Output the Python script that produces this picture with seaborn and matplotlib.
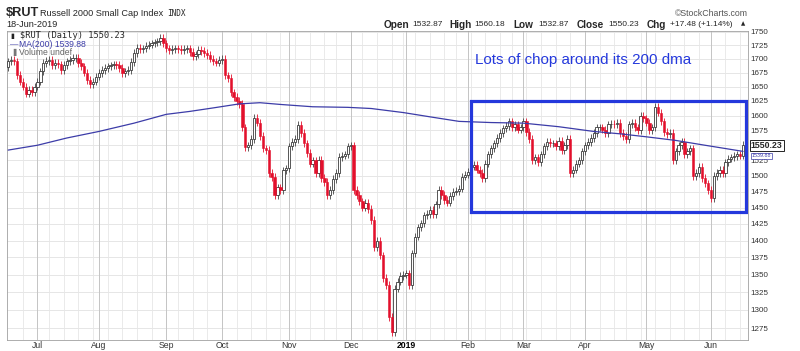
import numpy as np
import pandas as pd
import matplotlib
matplotlib.use('Agg')
import matplotlib.pyplot as plt
import matplotlib.ticker as mticker
from matplotlib.patches import Rectangle
import seaborn as sns

# daily closes of $RUT, 18-Jun-2018 .. 18-Jun-2019
closes = [
    1695, 1698, 1695, 1671, 1659, 1650, 1638, 1644, 1641, 1650,
    1659, 1677, 1692, 1696, 1698, 1689, 1692, 1690, 1680, 1689,
    1695, 1698, 1701, 1702, 1692, 1686, 1675, 1662, 1654, 1659,
    1668, 1674, 1680, 1683, 1686, 1688, 1690, 1689, 1683, 1674,
    1677, 1680, 1694, 1710, 1720, 1718, 1719, 1724, 1726, 1728,
    1730, 1732, 1738, 1728, 1719, 1716, 1718, 1719, 1718, 1716,
    1718, 1719, 1712, 1705, 1708, 1716, 1714, 1710, 1707, 1700,
    1695, 1693, 1698, 1700, 1670, 1665, 1640, 1632, 1625, 1620,
    1580, 1547, 1550, 1560, 1596, 1588, 1565, 1545, 1542, 1505,
    1498, 1470, 1482, 1478, 1509, 1512, 1548, 1555, 1560, 1584,
    1570, 1553, 1537, 1520, 1525, 1505, 1526, 1497, 1490, 1470,
    1478, 1495, 1505, 1531, 1533, 1535, 1548, 1550, 1478, 1470,
    1460, 1450, 1457, 1448, 1431, 1390, 1400, 1378, 1345, 1335,
    1290, 1270, 1330, 1340, 1348, 1350, 1352, 1335, 1381, 1406,
    1420, 1426, 1438, 1440, 1447, 1440, 1455, 1478, 1470, 1462,
    1458, 1468, 1475, 1476, 1480, 1499, 1502, 1506, 1515, 1518,
    1510, 1505, 1497, 1520, 1535, 1545, 1553, 1562, 1570, 1578,
    1582, 1590, 1580, 1585, 1576, 1580, 1590, 1572, 1560, 1525,
    1530, 1522, 1535, 1548, 1555, 1553, 1553, 1548, 1557, 1542,
    1550, 1560, 1505, 1510, 1520, 1525, 1540, 1550, 1555, 1562,
    1570, 1580, 1580, 1576, 1570, 1585, 1586, 1585, 1587, 1570,
    1565, 1560, 1585, 1587, 1580, 1575, 1600, 1595, 1588, 1575,
    1580, 1615, 1605, 1590, 1572, 1568, 1570, 1525, 1540, 1550,
    1555, 1535, 1540, 1545, 1500, 1505, 1515, 1497, 1488, 1478,
    1465, 1500, 1505, 1510, 1505, 1522, 1528, 1530, 1532, 1535,
    1532.75, 1550.23]
first_open = 1685

# 200 day moving average, read at a few trading-day positions
ma_idx = [0, 10, 20, 31, 43, 54, 62, 70, 79, 86, 93, 104, 116, 124,
          135, 145, 154, 165, 176, 188, 200, 209, 218, 228, 238, 251]
ma_vals = [1542, 1550, 1562, 1573, 1587, 1602, 1607, 1613, 1620, 1622, 1619, 1615, 1614, 1612,
           1605, 1597, 1590, 1588, 1587, 1581, 1573, 1569, 1564, 1558, 1550, 1539.88]

holidays = ['2018-07-04', '2018-09-03', '2018-11-22', '2018-12-05', '2018-12-25',
            '2019-01-01', '2019-01-21', '2019-02-18', '2019-04-19', '2019-05-27']
y_ticks = list(range(1275, 1751, 25))

days = pd.bdate_range('2018-06-18', '2019-06-18')
days = days[~days.isin(pd.to_datetime(holidays))]

df = pd.DataFrame({'date': days, 'close': closes})
df['open'] = [first_open] + closes[:-1]
df['i'] = np.arange(len(df))
df['up'] = df['close'] >= df['open']

sns.set_style('white')
plt.rcParams['font.family'] = ['Liberation Sans', 'DejaVu Sans']

fig = plt.figure(figsize=(8, 3.51), dpi=100)
ax = fig.add_axes([7/800, 1-340/351, 741/800, 309.5/351])

def fx(x):
    return x/800

def fy(y):
    return 1 - y/351

ax.set_yscale('log')
ax.set_xlim(-0.4, 252.7)
ax.set_ylim(1259, 1752)

# grid
for v in y_ticks:
    ax.axhline(v, color='#e2e2e2', lw=0.6, zorder=0)
week_starts = [i for i in range(1, len(days)) if days[i].weekday() < days[i-1].weekday()]
month_starts = [i for i in range(1, len(days)) if days[i].month != days[i-1].month]
for i in week_starts:
    ax.axvline(i, color='#e6e6e6', lw=0.6, zorder=0)
for i in month_starts:
    ax.axvline(i, color='#c4c4c4', lw=0.7, zorder=0)

# candles
up = df[df['up']]
dn = df[~df['up']]
lo = np.minimum(df['open'], df['close'])
hi = np.maximum(df['open'], df['close'])
ax.vlines(df['i'], lo*0.996, hi*1.004, color=np.where(df['up'], '#444444', '#e3102c'), lw=0.6, zorder=2)
ax.bar(up['i'], up['close']-up['open'], bottom=up['open'], width=0.8,
       facecolor='white', edgecolor='#3a3a3a', linewidth=0.6, zorder=3)
ax.bar(dn['i'], dn['open']-dn['close'], bottom=dn['close'], width=0.8,
       facecolor='#e3102c', edgecolor='#e3102c', linewidth=0.4, zorder=3)

sns.lineplot(x=ma_idx, y=ma_vals, ax=ax, color='#3c3ca8', linewidth=0.9, zorder=4)

# box
ax.add_patch(Rectangle((158.1, 1443), 93.9, 181.5, fill=False, ec='#2438dc', lw=2.3, zorder=5))
fig.text(fx(475), fy(60), 'Lots of chop around its 200 dma', color='#2438dc', fontsize=10.9,
         va='center', ha='left')

# axes styling
ax.yaxis.tick_right()
ax.yaxis.set_major_locator(mticker.FixedLocator(y_ticks))
ax.yaxis.set_minor_locator(mticker.NullLocator())
ax.yaxis.set_major_formatter(mticker.FuncFormatter(lambda v, p: '%d' % v))
ax.tick_params(axis='y', length=0, pad=2, labelsize=5.8, labelcolor='#333333')
ax.set_xticks(month_starts)
ax.set_xticklabels(['2019' if days[i].month == 1 else days[i].strftime('%b') for i in month_starts])
ax.tick_params(axis='x', length=0, pad=0.6, labelsize=6.2, labelcolor='#333333')
for t in ax.get_xticklabels():
    if t.get_text() == '2019':
        t.set_fontweight('bold')
        t.set_color('black')
for s in ax.spines.values():
    s.set_color('#a0a0a0')
    s.set_linewidth(0.6)
ax.set_xlabel('')
ax.set_ylabel('')

# last price tags
ax.annotate('1550.23', xy=(1.0, 1550.23), xycoords=('axes fraction', 'data'), xytext=(2, 0),
            textcoords='offset points', va='center', ha='left', fontsize=6.3, fontweight='bold',
            bbox=dict(boxstyle='square,pad=0.12', fc='white', ec='black', lw=0.6), annotation_clip=False)
ax.annotate('1539.88', xy=(1.0, 1539.88), xycoords=('axes fraction', 'data'), xytext=(2.5, -3),
            textcoords='offset points', va='center', ha='left', fontsize=3.8, color='#3c3ca8',
            bbox=dict(boxstyle='square,pad=0.1', fc='white', ec='#3c3ca8', lw=0.5), annotation_clip=False)

# header
fig.text(fx(6), fy(13), '$RUT', fontsize=9.2, fontweight='bold', va='center')
fig.text(fx(40), fy(13), 'Russell 2000 Small Cap Index', fontsize=6.6, va='center')
fig.text(fx(167), fy(13), 'INDX', fontsize=5.6, va='center', family='DejaVu Sans Mono')
fig.text(fx(6), fy(24.5), '18-Jun-2019', fontsize=6.6, va='center')
fig.text(fx(748), fy(13), '\u00a9StockCharts.com', fontsize=6.3, va='center', ha='right', color='#555555')

hdr = [('Open', 384, True), ('1532.87', 412, False), ('High', 449, True), ('1560.18', 474, False),
       ('Low', 513, True), ('1532.87', 538, False), ('Close', 577, True), ('1550.23', 608, False),
       ('Chg', 647, True), ('+17.48 (+1.14%)', 670, False)]
for txt, x, b in hdr:
    fig.text(fx(x), fy(24.5), txt, fontsize=7.2 if b else 6.0, fontweight='bold' if b else 'normal',
             va='center')
fig.text(fx(741), fy(23.5), '\u25b2', fontsize=4, va='center', family=['DejaVu Sans'])

# legend
fig.text(fx(10), fy(36), '\u25ae', fontsize=5, va='center', color='#222222', family=['DejaVu Sans'])
fig.text(fx(20), fy(36), '$RUT (Daily) 1550.23', fontsize=6.2, va='center', family='DejaVu Sans Mono')
fig.text(fx(10), fy(44.5), '\u2014', fontsize=6, va='center', color='#3c3ca8')
fig.text(fx(19), fy(44.5), 'MA(200) 1539.88', fontsize=6.2, va='center', color='#3c3ca8')
fig.text(fx(10), fy(52.5), '\u2590', fontsize=5, va='center', color='#777777', family=['DejaVu Sans'])
fig.text(fx(19), fy(52.5), 'Volume undef', fontsize=6.2, va='center', color='#666666')

fig.savefig('out.png', dpi=100)
